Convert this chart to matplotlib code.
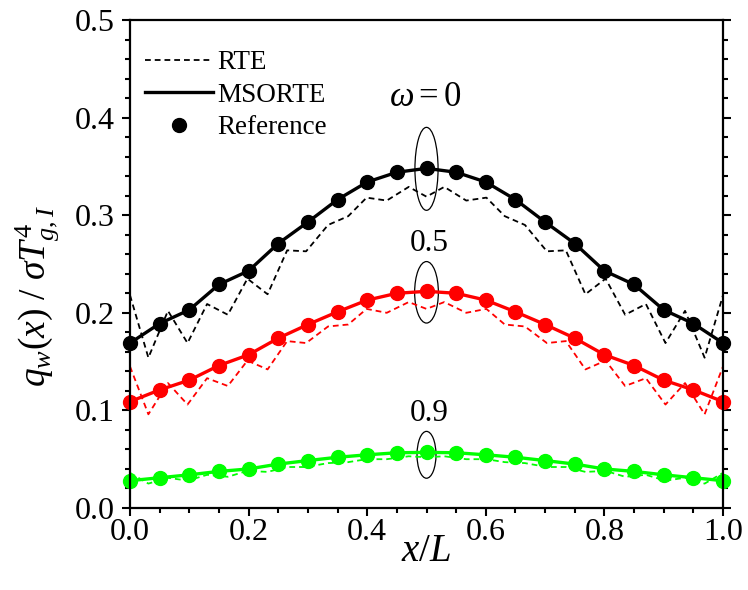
import matplotlib
matplotlib.use("Agg")
import matplotlib.pyplot as plt
from matplotlib.patches import Ellipse
from matplotlib.ticker import MultipleLocator, FormatStrFormatter

plt.rcParams['font.family'] = ['Liberation Serif', 'DejaVu Serif']
plt.rcParams['mathtext.fontset'] = 'custom'
plt.rcParams['mathtext.rm'] = 'Liberation Serif'
plt.rcParams['mathtext.it'] = 'Liberation Serif:italic'

# reference / MSORTE points
ref_x = [0.0, 0.05, 0.1, 0.15, 0.2, 0.25, 0.3, 0.35, 0.4, 0.45, 0.5,
         0.55, 0.6, 0.65, 0.7, 0.75, 0.8, 0.85, 0.9, 0.95, 1.0]
ref_w0 = [0.169, 0.189, 0.203, 0.229, 0.243, 0.271, 0.293, 0.316, 0.334, 0.344, 0.348,
          0.344, 0.334, 0.316, 0.293, 0.271, 0.243, 0.229, 0.203, 0.189, 0.169]
ref_w05 = [0.109, 0.121, 0.131, 0.146, 0.157, 0.174, 0.188, 0.201, 0.213, 0.220, 0.222,
           0.220, 0.213, 0.201, 0.188, 0.174, 0.157, 0.146, 0.131, 0.121, 0.109]
ref_w09 = [0.028, 0.031, 0.034, 0.0375, 0.040, 0.045, 0.0486, 0.052, 0.0545, 0.0566, 0.057,
           0.0566, 0.0545, 0.052, 0.0486, 0.045, 0.040, 0.0375, 0.034, 0.031, 0.028]

# RTE (ray effect) curves
rte_x = [0.0, 0.031, 0.064, 0.097, 0.130, 0.165, 0.198, 0.232, 0.265, 0.297, 0.334,
         0.368, 0.399, 0.433, 0.470, 0.5, 0.530, 0.567, 0.601, 0.632, 0.666, 0.703,
         0.735, 0.768, 0.802, 0.835, 0.870, 0.903, 0.936, 0.969, 1.0]
rte_w0 = [0.218, 0.154, 0.202, 0.169, 0.209, 0.198, 0.235, 0.219, 0.264, 0.263, 0.290,
          0.299, 0.318, 0.315, 0.329, 0.319, 0.329, 0.315, 0.318, 0.299, 0.290, 0.263,
          0.264, 0.219, 0.235, 0.198, 0.209, 0.169, 0.202, 0.154, 0.218]
rte_w05 = [0.145, 0.096, 0.128, 0.106, 0.133, 0.125, 0.151, 0.142, 0.171, 0.169, 0.186,
           0.188, 0.204, 0.200, 0.211, 0.204, 0.211, 0.200, 0.204, 0.188, 0.186, 0.169,
           0.171, 0.142, 0.151, 0.125, 0.133, 0.106, 0.128, 0.096, 0.145]
rte_w09 = [0.036, 0.025, 0.031, 0.028, 0.034, 0.032, 0.038, 0.037, 0.042, 0.042, 0.046,
           0.047, 0.050, 0.050, 0.053, 0.052, 0.053, 0.050, 0.050, 0.047, 0.046, 0.042,
           0.042, 0.037, 0.038, 0.032, 0.034, 0.028, 0.031, 0.025, 0.036]

green = '#00ff00'

fig = plt.figure(figsize=(7.48, 5.90), dpi=100)
ax = fig.add_axes([130 / 748, 82 / 590, 593 / 748, 488 / 590])

dash = (3.2, 2.2)
ax.plot(rte_x, rte_w0, color='black', lw=1.3, dashes=dash, label='RTE')
ax.plot(rte_x, rte_w05, color='red', lw=1.3, dashes=dash)
ax.plot(rte_x, rte_w09, color=green, lw=1.3, dashes=dash)

ax.plot(ref_x, ref_w0, color='black', lw=2.4, label='MSORTE')
ax.plot(ref_x, ref_w05, color='red', lw=2.4)
ax.plot(ref_x, ref_w09, color=green, lw=2.4)

ax.plot(ref_x, ref_w0, 'o', color='black', ms=10, clip_on=False, label='Reference')
ax.plot(ref_x, ref_w05, 'o', color='red', ms=10, clip_on=False)
ax.plot(ref_x, ref_w09, 'o', color=green, ms=10, clip_on=False)

# ellipses marking each omega group
ax.add_patch(Ellipse((0.5, 0.3475), 0.039, 0.085, fill=False, lw=0.9, ec='black'))
ax.add_patch(Ellipse((0.5, 0.221), 0.040, 0.063, fill=False, lw=0.9, ec='black'))
ax.add_patch(Ellipse((0.5, 0.0545), 0.032, 0.048, fill=False, lw=0.9, ec='black'))

ax.text(0.497, 0.421, r'$\omega = 0$', fontsize=25, ha='center', va='center')
ax.text(0.505, 0.271, '0.5', fontsize=22.5, ha='center', va='center')
ax.text(0.505, 0.097, '0.9', fontsize=22.5, ha='center', va='center')

ax.set_xlim(0, 1.0)
ax.set_ylim(0, 0.5)
ax.xaxis.set_major_locator(MultipleLocator(0.2))
ax.xaxis.set_minor_locator(MultipleLocator(0.05))
ax.yaxis.set_major_locator(MultipleLocator(0.1))
ax.yaxis.set_minor_locator(MultipleLocator(0.02))
ax.xaxis.set_major_formatter(FormatStrFormatter('%.1f'))
ax.yaxis.set_major_formatter(FormatStrFormatter('%.1f'))

ax.tick_params(which='both', direction='out', width=1.5, labelsize=23,
               left=True, right=True, bottom=True, top=False)
ax.tick_params(axis='x', which='major', length=6, pad=1)
ax.tick_params(axis='y', which='major', length=6, pad=5)
ax.tick_params(which='minor', length=3.5)
for s in ax.spines.values():
    s.set_linewidth(1.6)

ax.set_xlabel(r'$x/L$', fontsize=28, labelpad=-10)
ax.set_ylabel(r'$q_w(x)\ /\ \sigma T^4_{g,I}$', fontsize=27)
ax.yaxis.set_label_coords(-0.115, 0.435)

ax.legend(loc='upper left', bbox_to_anchor=(-0.015, 0.988), frameon=False, fontsize=19.5,
          handlelength=2.5, handletextpad=0.15, labelspacing=0.28, borderaxespad=0.5)

fig.savefig('out.png', dpi=100)
